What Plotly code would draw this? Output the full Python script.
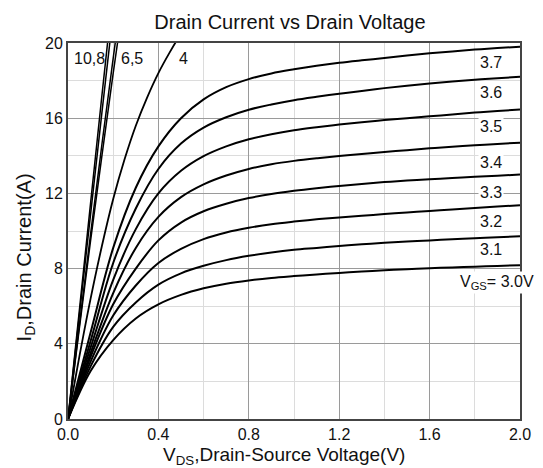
import plotly.graph_objects as go

# ---- data ----
vds_low = [round(0.1 * i, 1) for i in range(21)]  # 0.0 ... 2.0 V
id_30 = [0, 2.55, 4.2, 5.35, 6.1, 6.6, 6.95, 7.2, 7.37, 7.5, 7.6, 7.69, 7.77, 7.84, 7.91, 7.97, 8.02, 8.06, 8.1, 8.14, 8.18]
id_31 = [0, 2.8, 4.9, 6.2, 7.15, 7.75, 8.15, 8.45, 8.68, 8.86, 9.0, 9.1, 9.2, 9.29, 9.37, 9.44, 9.5, 9.56, 9.62, 9.67, 9.72]
id_32 = [0, 3.05, 5.5, 7.1, 8.3, 9.05, 9.57, 9.92, 10.17, 10.36, 10.5, 10.62, 10.72, 10.81, 10.9, 10.99, 11.07, 11.15, 11.22, 11.3, 11.37]
id_33 = [0, 3.3, 6.1, 8.0, 9.5, 10.45, 11.05, 11.45, 11.75, 11.97, 12.14, 12.28, 12.4, 12.5, 12.6, 12.68, 12.75, 12.82, 12.88, 12.94, 13.0]
id_34 = [0, 3.5, 6.7, 9.1, 10.75, 11.8, 12.48, 12.95, 13.3, 13.55, 13.73, 13.87, 13.99, 14.1, 14.2, 14.3, 14.4, 14.48, 14.56, 14.63, 14.7]
id_35 = [0, 3.8, 7.4, 10.1, 12.0, 13.2, 13.98, 14.5, 14.88, 15.15, 15.36, 15.52, 15.66, 15.78, 15.9, 16.0, 16.1, 16.2, 16.3, 16.38, 16.46]
id_36 = [0, 4.15, 8.3, 11.2, 13.3, 14.65, 15.5, 16.05, 16.45, 16.73, 16.96, 17.14, 17.3, 17.45, 17.6, 17.73, 17.85, 17.95, 18.05, 18.13, 18.2]
id_37 = [0, 4.6, 9.1, 12.3, 14.5, 16.0, 17.0, 17.65, 18.08, 18.38, 18.6, 18.79, 18.95, 19.08, 19.2, 19.33, 19.45, 19.55, 19.65, 19.73, 19.8]

vds_4 = [0, 0.05, 0.1, 0.15, 0.2, 0.25, 0.3, 0.35, 0.4, 0.45, 0.5, 0.55]
id_4 = [0, 3.3, 6.4, 9.2, 11.7, 13.8, 15.6, 17.1, 18.4, 19.5, 20.5, 21.4]

vds_hi = [0, 0.05, 0.1, 0.15, 0.2, 0.25]
id_5 = [0, 4.8, 9.5, 14.0, 18.4, 22.6]
id_6 = [0, 4.95, 9.85, 14.6, 19.2, 23.7]
id_8 = [0, 5.5, 10.9, 16.3, 21.6, 26.8]
id_10 = [0, 5.75, 11.5, 17.2, 22.8, 28.3]

right_labels = ["3.7", "3.6", "3.5", "3.4", "3.3", "3.2", "3.1"]
right_label_y = [18.96, 17.37, 15.56, 13.67, 12.05, 10.5, 9.04]

x_ticks = [0.0, 0.4, 0.8, 1.2, 1.6, 2.0]
y_ticks = [0, 4, 8, 12, 16, 20]

FONT = "Liberation Sans, Arial, sans-serif"

fig = go.Figure()
curves = [
    (vds_low, id_30, 2), (vds_low, id_31, 2), (vds_low, id_32, 2), (vds_low, id_33, 2),
    (vds_low, id_34, 2), (vds_low, id_35, 2), (vds_low, id_36, 2), (vds_low, id_37, 2),
    (vds_4, id_4, 1.8), (vds_hi, id_5, 1.5), (vds_hi, id_6, 1.5), (vds_hi, id_8, 1.5),
    (vds_hi, id_10, 1.5),
]
for xs, ys, w in curves:
    fig.add_trace(go.Scatter(
        x=xs, y=ys, mode="lines",
        line=dict(color="black", width=w, shape="spline", smoothing=1.0),
        showlegend=False, hoverinfo="skip",
    ))

annotations = []
for t, yv in zip(right_labels, right_label_y):
    annotations.append(dict(x=1.87, y=yv, xref="x", yref="y", text=t, showarrow=False,
                            font=dict(family=FONT, size=16, color="#111"),
                            bgcolor="white", xanchor="center", yanchor="middle"))
annotations.append(dict(x=1.9, y=7.26, xref="x", yref="y",
                        text="V<sub>GS</sub>= 3.0V", showarrow=False,
                        font=dict(family=FONT, size=16, color="#111"),
                        bgcolor="white", xanchor="center", yanchor="middle"))
for t, xv in [("10,8", 0.095), ("6,5", 0.283), ("4", 0.511)]:
    annotations.append(dict(x=xv, y=19.2, xref="x", yref="y", text=t, showarrow=False,
                            font=dict(family=FONT, size=16, color="#111"),
                            xanchor="center", yanchor="middle"))
annotations.append(dict(x=0.477, y=-0.098, xref="paper", yref="paper",
                        text="V<sub>DS</sub>,Drain-Source Voltage(V)", showarrow=False,
                        font=dict(family=FONT, size=19, color="#111"),
                        xanchor="center", yanchor="middle"))
annotations.append(dict(x=-0.095, y=0.43, xref="paper", yref="paper",
                        text="I<sub>D</sub>,Drain Current(A)", showarrow=False, textangle=-90,
                        font=dict(family=FONT, size=20, color="#111"),
                        xanchor="center", yanchor="middle"))

fig.update_layout(
    width=543, height=468,
    margin=dict(l=68, r=13, t=43, b=48.5),
    paper_bgcolor="white", plot_bgcolor="white",
    title=dict(text="Drain Current vs Drain Voltage", x=0.491, xref="paper",
               y=1 - 22 / 468, yref="container", xanchor="center", yanchor="middle",
               font=dict(family=FONT, size=20, color="#111")),
    annotations=annotations,
    font=dict(family=FONT, size=16, color="#111"),
)
fig.update_xaxes(
    range=[0, 2.0], tickvals=x_ticks, ticktext=[f"{v:.1f}" for v in x_ticks],
    showgrid=True, gridcolor="#9a9a9a", gridwidth=1,
    minor=dict(dtick=0.2, tick0=0, showgrid=True, gridcolor="#dcdcdc", gridwidth=1),
    showline=True, mirror=True, linecolor="#444", linewidth=2,
    zeroline=False, ticks="", tickfont=dict(family=FONT, size=16, color="#111"),
)
fig.update_yaxes(
    range=[0, 20], tickvals=y_ticks,
    showgrid=True, gridcolor="#9a9a9a", gridwidth=1,
    minor=dict(dtick=2, tick0=0, showgrid=True, gridcolor="#dcdcdc", gridwidth=1),
    showline=True, mirror=True, linecolor="#444", linewidth=2,
    zeroline=False, ticks="", tickfont=dict(family=FONT, size=16, color="#111"),
)

fig.write_html("out.html")
